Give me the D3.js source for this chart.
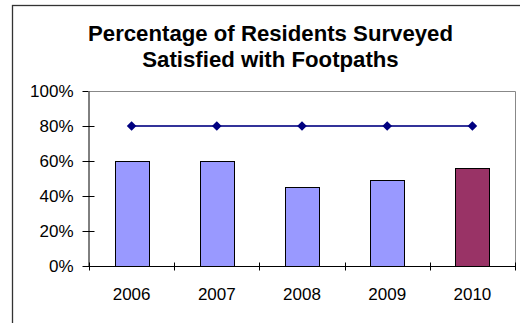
<!DOCTYPE html>
<html>
<head>
<meta charset="utf-8">
<script src="https://cdn.jsdelivr.net/npm/d3@7"></script>
<style>
  html, body { margin: 0; padding: 0; background: #fff; }
  svg { display: block; }
  text { font-family: Arial, "Liberation Sans", sans-serif; fill: #000; }
</style>
</head>
<body>
<svg id="chart" width="520" height="323"></svg>
<script>
// Survey results by year
const years = ["2006", "2007", "2008", "2009", "2010"];
const satisfied = [60, 60, 45, 49, 56];   // % satisfied (bars)
const target = [80, 80, 80, 80, 80];       // target line
const yTicks = [0, 20, 40, 60, 80, 100];
const titleLines = ["Percentage of Residents Surveyed", "Satisfied with Footpaths"];

const svg = d3.select("#chart");

// outer chart frame
svg.append("rect")
  .attr("x", 12.5).attr("y", 5.5)
  .attr("width", 520).attr("height", 330)
  .attr("fill", "#fff").attr("stroke", "#333").attr("stroke-width", 1.3);

const plot = { left: 89, right: 515, top: 91, bottom: 266 };

const x = d3.scaleBand()
  .domain(years)
  .range([plot.left, plot.right])
  .paddingInner(0.6)
  .paddingOuter(0.3);

const step = x.step();

const y = d3.scaleLinear()
  .domain([0, 100])
  .range([plot.bottom, plot.top]);

// title
svg.append("g").selectAll("text")
  .data(titleLines)
  .join("text")
  .attr("x", 270.5)
  .attr("y", (d, i) => 41 + i * 26)
  .attr("text-anchor", "middle")
  .attr("font-size", 22.2)
  .attr("font-weight", "bold")
  .text(d => d);

// plot area border (top and right)
svg.append("path")
  .attr("d", `M${plot.left},${y(100) + 0.5}H${plot.right + 0.5}V${plot.bottom}`)
  .attr("fill", "none")
  .attr("stroke", "#888")
  .attr("stroke-width", 1);

// bars
svg.append("g").selectAll("rect")
  .data(years)
  .join("rect")
  .attr("x", d => Math.round(x(d)) + 0.5)
  .attr("y", (d, i) => Math.round(y(satisfied[i])) + 0.5)
  .attr("width", Math.round(x.bandwidth()))
  .attr("height", (d, i) => Math.round(y(0)) - Math.round(y(satisfied[i])))
  .attr("fill", (d, i) => i === years.length - 1 ? "#993366" : "#9999FF")
  .attr("stroke", "#000")
  .attr("stroke-width", 1);

// y axis
const yAxis = d3.axisLeft(y)
  .tickValues(yTicks)
  .tickFormat(d => d + "%")
  .tickSizeInner(6)
  .tickSizeOuter(0)
  .tickPadding(9);

const gy = svg.append("g")
  .attr("transform", `translate(${plot.left - 0.5},0)`)
  .call(yAxis);
gy.select(".domain").attr("stroke", "#000");
gy.selectAll(".tick line").attr("x1", -6).attr("x2", 6).attr("stroke", "#000");
gy.selectAll(".tick text")
  .attr("font-size", 17)
  .attr("font-family", "Arial, 'Liberation Sans', sans-serif")
  .attr("fill", "#000");
gy.selectAll(".tick").filter(d => d === 100).select("line").attr("x2", 0);

// x axis with ticks at category boundaries
const gx = svg.append("g")
  .attr("transform", `translate(0,${plot.bottom + 0.5})`);
gx.append("line")
  .attr("x1", plot.left).attr("x2", plot.right + 1)
  .attr("stroke", "#000");
const bounds = d3.range(years.length + 1).map(i => plot.left + i * step);
gx.selectAll("line.tk")
  .data(bounds)
  .join("line")
  .attr("class", "tk")
  .attr("x1", d => Math.round(d) + 0.5).attr("x2", d => Math.round(d) + 0.5)
  .attr("y1", -4).attr("y2", 4)
  .attr("stroke", "#000");
gx.selectAll("text")
  .data(years)
  .join("text")
  .attr("x", d => x(d) + x.bandwidth() / 2)
  .attr("y", 33)
  .attr("text-anchor", "middle")
  .attr("font-size", 17)
  .text(d => d);

// target line with diamond markers
const cx = d => x(d) + x.bandwidth() / 2;
const line = d3.line()
  .x((d, i) => cx(years[i]))
  .y(d => y(d));

svg.append("path")
  .datum(target)
  .attr("d", line)
  .attr("fill", "none")
  .attr("stroke", "#333399")
  .attr("stroke-width", 2);

svg.append("g").selectAll("path")
  .data(target)
  .join("path")
  .attr("transform", (d, i) => `translate(${cx(years[i])},${y(d)})`)
  .attr("d", "M0,-4.8L4.8,0L0,4.8L-4.8,0Z")
  .attr("fill", "#000080");
</script>
</body>
</html>
